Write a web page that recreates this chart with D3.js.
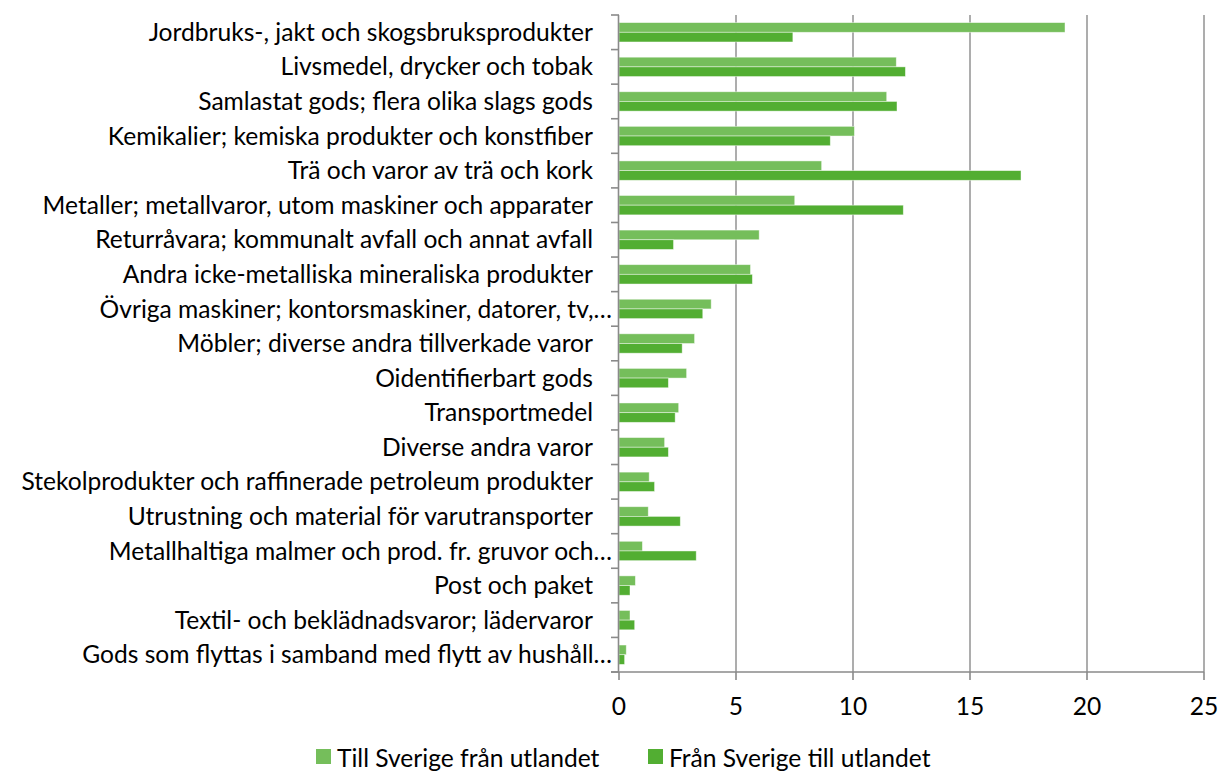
<!DOCTYPE html>
<html>
<head>
<meta charset="utf-8">
<script src="https://cdn.jsdelivr.net/npm/d3@7"></script>
<style>
  body { margin: 0; background: #fff; }
  text { font-family: Lato, "Open Sans", sans-serif; fill: #000; }
</style>
</head>
<body>
<div id="chart"></div>
<script>
// Categories, top to bottom
const categories = [
  "Jordbruks-, jakt och skogsbruksprodukter",
  "Livsmedel, drycker och tobak",
  "Samlastat gods; flera olika slags gods",
  "Kemikalier; kemiska produkter och konstfiber",
  "Trä och varor av trä och kork",
  "Metaller; metallvaror, utom maskiner och apparater",
  "Returråvara; kommunalt avfall och annat avfall",
  "Andra icke-metalliska mineraliska produkter",
  "Övriga maskiner; kontorsmaskiner, datorer, tv,…",
  "Möbler; diverse andra tillverkade varor",
  "Oidentifierbart gods",
  "Transportmedel",
  "Diverse andra varor",
  "Stekolprodukter och raffinerade petroleum produkter",
  "Utrustning och material för varutransporter",
  "Metallhaltiga malmer och prod. fr. gruvor och…",
  "Post och paket",
  "Textil- och beklädnadsvaror; lädervaror",
  "Gods som flyttas i samband med flytt av hushåll…"
];
const tillSverige = [19.06, 11.85, 11.44, 10.06, 8.66, 7.51, 5.99, 5.62, 3.94, 3.23, 2.89, 2.55, 1.95, 1.29, 1.25, 1.00, 0.70, 0.47, 0.31];
const franSverige = [7.43, 12.24, 11.88, 9.03, 17.18, 12.15, 2.33, 5.70, 3.58, 2.70, 2.11, 2.40, 2.11, 1.52, 2.62, 3.30, 0.47, 0.67, 0.24];
const seriesNames = ["Till Sverige från utlandet", "Från Sverige till utlandet"];
const xTicks = [0, 5, 10, 15, 20, 25];

const colors = ["#75BE5B", "#52AE32"];
const W = 1221, H = 773;
const plot = {left: 619, right: 1204, top: 15, bottom: 672};
const fontSize = 24.6;

const svg = d3.select("#chart").append("svg")
    .attr("width", W)
    .attr("height", H);

const x = d3.scaleLinear().domain([0, 25]).range([plot.left, plot.right]);
const y = d3.scaleBand().domain(categories).range([plot.top, plot.bottom])
    .paddingInner(0.44).paddingOuter(0.22);
const ySub = d3.scaleBand().domain([0, 1]).range([0, y.bandwidth()]);
const step = y.step();

// gridlines
svg.append("g")
    .selectAll("line")
    .data(xTicks.slice(1))
    .join("line")
    .attr("x1", d => x(d)).attr("x2", d => x(d))
    .attr("y1", plot.top).attr("y2", plot.bottom)
    .attr("stroke", "#8a8a8a")
    .attr("stroke-width", 1.4);

// bars
const rows = categories.map((c, i) => ({cat: c, vals: [tillSverige[i], franSverige[i]]}));
const group = svg.append("g")
    .selectAll("g")
    .data(rows)
    .join("g")
    .attr("transform", d => `translate(0,${y(d.cat)})`);

group.selectAll("rect")
    .data(d => d.vals.map((v, k) => ({v, k})))
    .join("rect")
    .attr("x", x(0))
    .attr("y", d => ySub(d.k))
    .attr("width", d => x(d.v) - x(0))
    .attr("height", ySub.bandwidth())
    .attr("fill", d => colors[d.k])
    .attr("stroke", "#ffffff")
    .attr("stroke-opacity", 0.55)
    .attr("stroke-width", 0.8);

// y axis line and ticks at band boundaries
const yAxis = svg.append("g");
yAxis.append("line")
    .attr("x1", plot.left - 0.5).attr("x2", plot.left - 0.5)
    .attr("y1", plot.top).attr("y2", plot.bottom)
    .attr("stroke", "#8a8a8a").attr("stroke-width", 1.6);
yAxis.selectAll("line.tick")
    .data(d3.range(categories.length + 1))
    .join("line")
    .attr("class", "tick")
    .attr("x1", plot.left - 8).attr("x2", plot.left)
    .attr("y1", i => plot.top + i * step).attr("y2", i => plot.top + i * step)
    .attr("stroke", "#8a8a8a").attr("stroke-width", 1.6);

// category labels
yAxis.selectAll("text")
    .data(categories)
    .join("text")
    .attr("x", d => d.endsWith("…") ? 612 : 593)
    .attr("y", d => y(d) + y.bandwidth() / 2)
    .attr("dy", "0.35em")
    .attr("text-anchor", "end")
    .style("font-size", fontSize + "px")
    .text(d => d);

// x axis
const xAxis = svg.append("g");
xAxis.append("line")
    .attr("x1", plot.left - 8).attr("x2", plot.right)
    .attr("y1", plot.bottom).attr("y2", plot.bottom)
    .attr("stroke", "#8a8a8a").attr("stroke-width", 1.6);
xAxis.selectAll("line.tick")
    .data(xTicks)
    .join("line")
    .attr("class", "tick")
    .attr("x1", d => x(d)).attr("x2", d => x(d))
    .attr("y1", plot.bottom).attr("y2", plot.bottom + 8)
    .attr("stroke", "#8a8a8a").attr("stroke-width", 1.6);
xAxis.selectAll("text")
    .data(xTicks)
    .join("text")
    .attr("x", d => x(d))
    .attr("y", 706)
    .attr("dy", "0.35em")
    .attr("text-anchor", "middle")
    .style("font-size", fontSize + "px")
    .text(d => d);

// legend (sits at the very bottom edge, as in the source)
const legendX = [316, 648];
const legend = svg.append("g")
    .selectAll("g")
    .data(seriesNames)
    .join("g")
    .attr("transform", (d, i) => `translate(${legendX[i]},749)`);
legend.append("rect")
    .attr("width", 15).attr("height", 15)
    .attr("fill", (d, i) => colors[i]);
legend.append("text")
    .attr("x", 21)
    .attr("y", 9)
    .attr("dy", "0.35em")
    .style("font-size", fontSize + "px")
    .text(d => d);
</script>
</body>
</html>
